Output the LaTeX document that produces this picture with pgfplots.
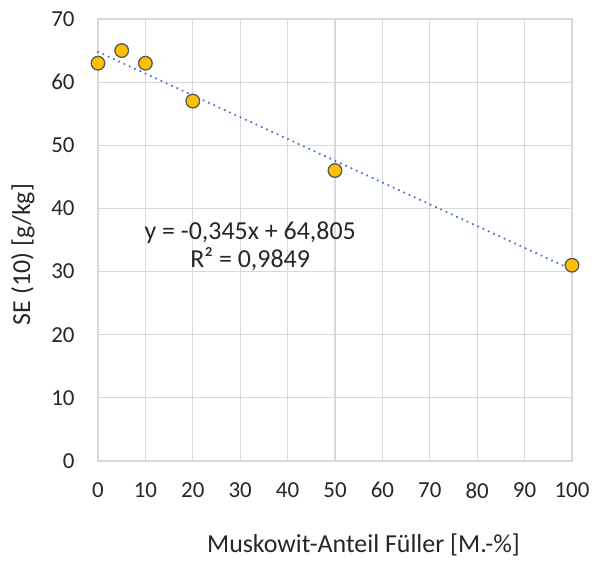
\documentclass[border=0pt]{standalone}
\usepackage{pgfplots}
\pgfplotsset{compat=1.18}
\usepackage{fontspec}
\setmainfont{Carlito}

\definecolor{gridgray}{HTML}{D9D9D9}
\definecolor{markfill}{HTML}{FFC000}
\definecolor{markedge}{HTML}{595959}
\definecolor{trendblue}{HTML}{4472C4}

\begin{document}
\begin{tikzpicture}
\useasboundingbox (-98bp,-100bp) rectangle (496bp,461bp);
\begin{axis}[
  at={(0,0)}, anchor=south west,
  scale only axis,
  width=474bp, height=442bp,
  xmin=0, xmax=100, ymin=0, ymax=70,
  xtick={0,10,...,100}, ytick={0,10,...,70},
  grid=major,
  grid style={gridgray, line width=1.2bp},
  axis line style={gridgray, line width=1.2bp},
  tick style={draw=none},
  font=\fontsize{23}{27}\selectfont,
  /pgf/number format/assume math mode=true,
  ticklabel style={font=\fontsize{23}{27}\selectfont, text=black!85},
  xticklabel style={yshift=-18bp},
  yticklabel style={xshift=-20bp},
  clip=false,
]
% linear trend line y = -0.345x + 64.805
\addplot[trendblue, line width=2.4bp, dash pattern=on 0.01bp off 5.8bp, line cap=round]
  coordinates {(0,64.805) (100,30.305)};
% measured values
\addplot[only marks, mark=*, mark size=6.8bp,
  mark options={fill=markfill, draw=markedge, line width=1.3bp}]
  coordinates {(0,63) (5,65) (10,63) (20,57) (50,46) (100,31)};
\node[align=center, text=black!85, font=\fontsize{26}{28}\selectfont]
  at (axis cs:32.1,34.0) {y = -0,345x + 64,805\\R² = 0,9849};
\end{axis}
\node[rotate=90, text=black!85, font=\fontsize{26}{30}\selectfont] at (-75bp,206.5bp) {SE (10) [g/kg]};
\node[text=black!85, font=\fontsize{26}{30}\selectfont] at (265.5bp,-84bp) {Muskowit-Anteil Füller [M.-\%]};
\end{tikzpicture}
\end{document}
